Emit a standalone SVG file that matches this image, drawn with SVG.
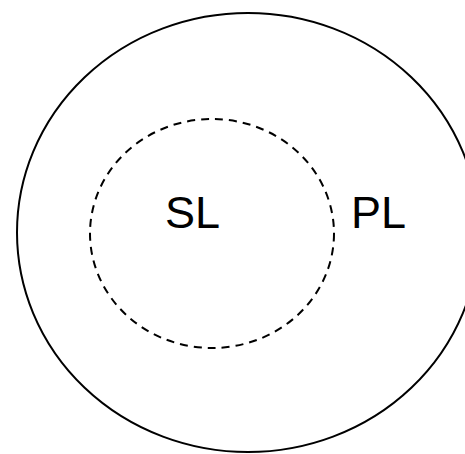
<svg xmlns="http://www.w3.org/2000/svg" width="465" height="454" viewBox="0 0 465 454">
<style>
.c{fill:none;stroke:#000;stroke-width:2}
.d{stroke-dasharray:8 6}
.t{font-family:"Liberation Sans",Arial,sans-serif;font-size:45px;fill:#000}
</style>
<rect width="465" height="454" fill="#fff"/>
<g id="connectors"/>
<g id="PL">
<ellipse class="c" cx="248" cy="232.5" rx="231" ry="219.5"/>
<text class="t" x="351" y="228">PL</text>
</g>
<g id="SL">
<ellipse class="c d" cx="212" cy="233.5" rx="122" ry="114.5"/>
<text class="t" x="165" y="228">SL</text>
</g>
</svg>
